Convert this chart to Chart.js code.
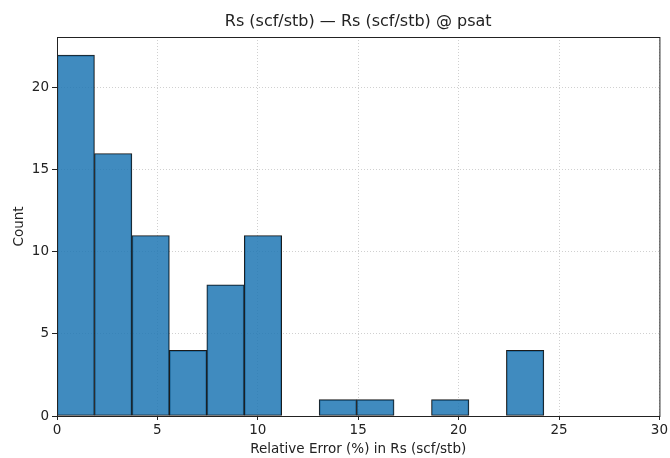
<!DOCTYPE html>
<html>
<head>
<meta charset="utf-8">
<script src="https://cdn.jsdelivr.net/npm/chart.js@4/dist/chart.umd.min.js"></script>
<style>
  html, body { margin: 0; padding: 0; background: #fff; }
  #wrap { width: 670px; height: 458px; }
</style>
</head>
<body>
<div id="wrap"><canvas id="chart"></canvas></div>
<script>
const binStarts = [0, 1.865, 3.73, 5.595, 7.46, 9.325, 11.19, 13.055, 14.92, 16.785, 18.65, 20.515, 22.38];
const binWidth = 1.865;
const counts = [22, 16, 11, 4, 8, 11, 0, 1, 1, 0, 1, 0, 4];
const xTicks = [0, 5, 10, 15, 20, 25, 30];
const yTicks = [0, 5, 10, 15, 20];
const chartTitle = 'Rs (scf/stb) — Rs (scf/stb) @ psat';

const barColor = 'rgba(31, 119, 180, 0.85)';
const font = { family: 'DejaVu Sans', size: 13.5 };

// spines on all four sides + title centred over the plot area
const framePlugin = {
  id: 'frame',
  afterDraw(chart) {
    const { ctx, chartArea: a } = chart;
    ctx.save();
    ctx.strokeStyle = '#222';
    ctx.lineWidth = 1;
    ctx.setLineDash([]);
    ctx.strokeRect(a.left + 0.5, a.top + 0.5, a.right - a.left, a.bottom - a.top);
    ctx.fillStyle = '#222';
    ctx.font = '16px "DejaVu Sans"';
    ctx.textAlign = 'center';
    ctx.textBaseline = 'middle';
    ctx.fillText(chartTitle, (a.left + a.right) / 2, 22);
    ctx.restore();
  }
};

const points = binStarts.map((s, i) => ({ x: s + binWidth / 2, y: counts[i] }));

new Chart(document.getElementById('chart'), {
  type: 'bar',
  data: {
    datasets: [{
      data: points,
      backgroundColor: barColor,
      borderColor: '#1a1a1a',
      borderWidth: 1,
      borderSkipped: false,
      barPercentage: 1,
      categoryPercentage: 1
    }]
  },
  options: {
    responsive: true,
    maintainAspectRatio: false,
    animation: false,
    layout: { padding: { left: 0, right: 10, top: 37, bottom: 0 } },
    plugins: {
      legend: { display: false },
      tooltip: { enabled: false },
      title: { display: false }
    },
    scales: {
      x: {
        type: 'linear',
        offset: false,
        min: 0,
        max: 30,
        afterBuildTicks(scale) { scale.ticks = xTicks.map(v => ({ value: v })); },
        afterFit(scale) { scale.height = 42; },
        border: { display: true, color: '#222', width: 1, dash: [1, 2] },
        grid: {
          offset: false,
          color: '#d0d0d0',
          tickColor: '#222',
          tickLength: 4,
          tickBorderDash: []
        },
        ticks: { color: '#222', font: font, padding: 2, maxRotation: 0 },
        title: { display: true, text: 'Relative Error (%) in Rs (scf/stb)', color: '#222', font: font, padding: { top: 1, bottom: 0 } }
      },
      y: {
        min: 0,
        max: 23.1,
        afterBuildTicks(scale) { scale.ticks = yTicks.map(v => ({ value: v })); },
        afterFit(scale) { scale.width = 57; },
        border: { display: true, color: '#222', width: 1, dash: [1, 2] },
        grid: {
          color: '#d0d0d0',
          tickColor: '#222',
          tickLength: 5,
          tickBorderDash: []
        },
        ticks: { color: '#222', font: font, padding: 3 },
        title: { display: true, text: 'Count', color: '#222', font: font, padding: { top: 11, bottom: 4 } }
      }
    }
  },
  plugins: [framePlugin]
});
</script>
</body>
</html>
